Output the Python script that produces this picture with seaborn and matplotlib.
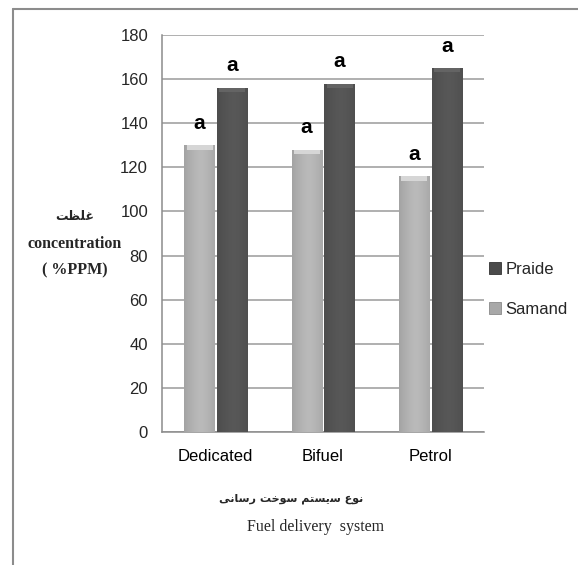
import numpy as np
import pandas as pd
import matplotlib
matplotlib.use("Agg")
import matplotlib.pyplot as plt
from matplotlib.lines import Line2D
from matplotlib.patches import Patch
import seaborn as sns

# ---- data ----
systems = ["Dedicated", "Bifuel", "Petrol"]
samand = [130, 128, 116]
praide = [156, 158, 165]
sig_samand = ["a", "a", "a"]
sig_praide = ["a", "a", "a"]
series_names = ["Samand", "Praide"]
yticks = [0, 20, 40, 60, 80, 100, 120, 140, 160, 180]

# Persian text (presentation forms, visual order)
fa_conc = "\uFE96\uFEC8\uFEE0\uFECF"  # غلظت
fa_xlabel = ("\uFBFD\uFEE7\uFE8E\uFEB3\uFEAD " "\uFE96\uFEA7\uFEEE\uFEB3 "
             "\uFEE2\uFE98\uFEB4\uFBFE\uFEB3 " "\uFEC9\uFEEE\uFEE7")  # نوع سیستم سوخت رسانی

df = pd.DataFrame({
    "system": systems * 2,
    "value": samand + praide,
    "car": [series_names[0]] * 3 + [series_names[1]] * 3,
})

sns.set_theme(style="white")
narrow = ["Liberation Sans", "DejaVu Sans"]
serif = ["Liberation Serif", "DejaVu Serif"]
fa_font = ["DejaVu Sans"]

W, H = 578, 565
fig = plt.figure(figsize=(W / 100, H / 100), dpi=100)
ax = fig.add_axes([162 / W, 1 - 432 / H, (484 - 162) / W, (432 - 35) / H])

colors = {"Samand": "#b4b4b4", "Praide": "#555555"}
sns.barplot(data=df, x="system", y="value", hue="car", order=systems,
            hue_order=series_names, palette=colors, width=0.61, gap=0.08,
            ax=ax, legend=False, zorder=3, linewidth=0)

# gradient shading for a 3D-like look
grad = np.linspace(0, 1, 64)
shade = 1 - 0.5 * (np.abs(grad - 0.55) * 2) ** 1.5
for cont, base in zip(ax.containers, [np.array([0.70, 0.70, 0.70]), np.array([0.33, 0.33, 0.33])]):
    for bar in cont:
        x0, y0 = bar.get_x(), bar.get_y()
        w, h = bar.get_width(), bar.get_height()
        img = np.clip(base[None, None, :] * (0.82 + 0.22 * shade[None, :, None]), 0, 1)
        img = np.repeat(img, 2, axis=0)
        im = ax.imshow(img, extent=[x0, x0 + w, y0, y0 + h], aspect="auto",
                       zorder=3.5, interpolation="bilinear")
        im.set_clip_path(bar)
        ax.imshow(np.clip(base[None, None, :] * 1.2, 0, 1).repeat(2, 0).repeat(2, 1),
                  extent=[x0 + w * 0.08, x0 + w * 0.92, y0 + h - 2.0, y0 + h], aspect="auto",
                  zorder=3.6).set_clip_path(bar)

for cont, labels in zip(ax.containers, [sig_samand, sig_praide]):
    ax.bar_label(cont, labels=labels, padding=9, fontsize=15, fontweight="bold",
                 family=narrow, color="black", zorder=5)

ax.set_xlim(-0.5, 2.5)
ax.set_ylim(0, 180)
ax.set_yticks(yticks)
ax.set_yticklabels([str(v) for v in yticks], family=narrow, fontsize=12)
ax.set_xticks(range(len(systems)))
ax.set_xticklabels(systems, family=narrow, fontsize=12)
ax.set_xticks([-0.5, 0.5, 1.5, 2.5], minor=True)
ax.tick_params(axis="x", which="major", length=0, pad=12, colors="black")
ax.tick_params(axis="x", which="minor", length=6, width=1, color="#8c8c8c", direction="out")
ax.tick_params(axis="y", length=5, width=1, color="#8c8c8c", direction="out", pad=5)
ax.yaxis.grid(True, color="#9a9a9a", linewidth=1.1, zorder=0)
ax.set_axisbelow(True)
for s in ["top", "right"]:
    ax.spines[s].set_visible(False)
for s in ["left", "bottom"]:
    ax.spines[s].set_color("#8c8c8c")
    ax.spines[s].set_linewidth(1.1)
ax.set_xlabel("")
ax.set_ylabel("")

# y-axis title
fig.text(75 / W, 1 - 216 / H, fa_conc, family=fa_font, fontsize=9, fontweight="bold",
         ha="center", va="center")
fig.text(75 / W, 1 - 244 / H, "concentration", family=serif, fontsize=11.5,
         fontweight="bold", ha="center", va="center")
fig.text(75 / W, 1 - 270 / H, "( %PPM)", family=serif, fontsize=11.5,
         fontweight="bold", ha="center", va="center")

# x-axis title
fig.text(291 / W, 1 - 499 / H, fa_xlabel, family=fa_font, fontsize=8, fontweight="bold",
         ha="center", va="center")
fig.text(316 / W, 1 - 527 / H, "Fuel delivery  system", family=serif, fontsize=11.5,
         ha="center", va="center")

# legend
handles = [Patch(facecolor="#4a4a4a", edgecolor="#333333", linewidth=0.6),
           Patch(facecolor="#a8a8a8", edgecolor="#8a8a8a", linewidth=0.6)]
fig.legend(handles, ["Praide", "Samand"], loc="center left",
           bbox_to_anchor=(474 / W, 1 - 289 / H), frameon=False,
           prop={"family": narrow, "size": 12}, handlelength=0.7, handleheight=0.7,
           handletextpad=0.3, labelspacing=1.5)

# outer frame (top and left)
fig.add_artist(Line2D([13 / W, 1], [1 - 9 / H, 1 - 9 / H], transform=fig.transFigure,
                      color="#8c8c8c", linewidth=1.5))
fig.add_artist(Line2D([13 / W, 13 / W], [0, 1 - 9 / H], transform=fig.transFigure,
                      color="#8c8c8c", linewidth=1.5))

fig.savefig("out.png", dpi=100)
